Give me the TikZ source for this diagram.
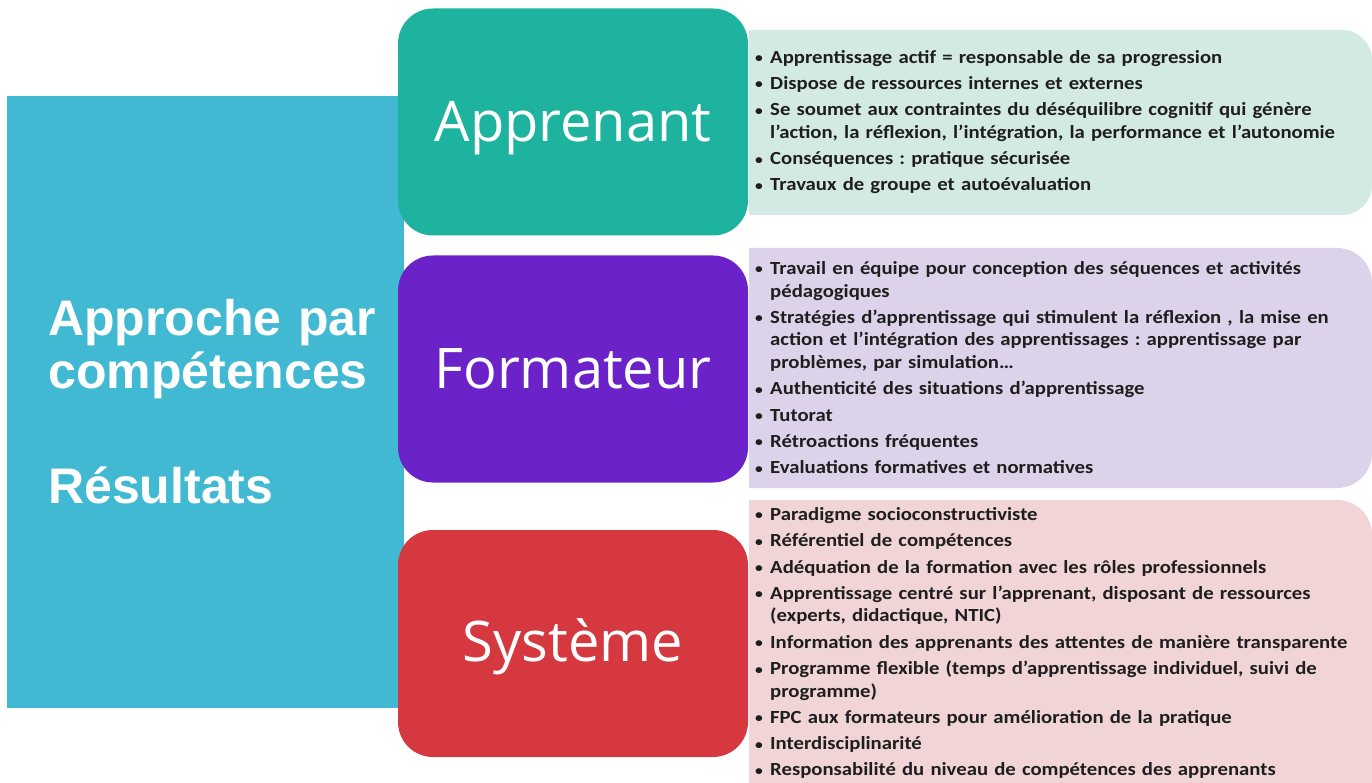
\documentclass[tikz,border=0pt]{standalone}
\usepackage{fontspec}
\setmainfont{Carlito}
\newfontfamily\itemfont[FakeStretch=1.12]{Carlito}
\newfontfamily\headfont{Open Sans}
\newfontfamily\leftfont{Liberation Sans}
\usetikzlibrary{positioning}
\definecolor{leftcyan}{HTML}{41B9D3}
\definecolor{appteal}{HTML}{1DB39F}
\definecolor{formpurple}{HTML}{6B22C8}
\definecolor{sysred}{HTML}{D5383E}
\definecolor{applight}{HTML}{D3E9E4}
\definecolor{formlight}{HTML}{DCD3EB}
\definecolor{syslight}{HTML}{F0D4D6}
\definecolor{itemtext}{HTML}{1E1E1E}
\newcommand{\itm}[1][3.7pt]{\par\vspace{#1}\noindent\hangindent=15pt\hangafter=1\makebox[15pt][l]{\raisebox{0.5pt}{\scalebox{0.75}{\textbullet}}}}
\tikzset{
  headbox/.style={rounded corners=35pt, minimum width=350pt, minimum height=227pt, inner sep=0pt},
  headlbl/.style={anchor=base, text=white, inner sep=0pt, font=\headfont\fontsize{56}{60}\selectfont},
  itemlist/.style={anchor=north west, inner sep=0pt, text width=640pt, align=left, text=itemtext, font=\itemfont\bfseries\fontsize{18.5}{22.6}\selectfont\frenchspacing},
}

\begin{document}
\begin{tikzpicture}[x=1pt, y=-1pt]
  \useasboundingbox (0,0) rectangle (1372,783);

  % left column
  \fill[leftcyan] (7,96) rectangle (404,708);
  \node[anchor=north west, inner sep=0pt, text width=350pt, align=left, text=white,
        font=\leftfont\bfseries\fontsize{50}{53}\selectfont] (topic) at (48,298)
        {\strut Approche par\\compétences\\[62pt]Résultats};

  % headings
  \node[headbox, fill=appteal] (app) at (573,122) {};
  \node[headbox, fill=formpurple] (form) at (573,369) {};
  \node[headbox, fill=sysred] (sys) at (573,643.5) {};
  \node[headlbl] (applbl) at ([yshift=-19.7pt]app.center) {Apprenant};
  \node[headlbl] (formlbl) at ([yshift=-19.7pt]form.center) {Formateur};
  \node[headlbl] (syslbl) at ([yshift=-18pt]sys.center) {Système};

  % item panels
  \begin{scope}
    \clip (749,0) rectangle (1372,783);
    \fill[applight, rounded corners=30pt] (700,30) rectangle (1372,215);
    \fill[formlight, rounded corners=35pt] (700,248) rectangle (1372,488);
    \fill[syslight, rounded corners=35pt] (700,500) rectangle (1372,830);
  \end{scope}

  \node[itemlist] (appitems) at (755,40.4) {%
    \itm[0pt]Apprentissage actif = responsable de sa progression
    \itm Dispose de ressources internes et externes
    \itm Se soumet aux contraintes du déséquilibre cognitif qui génère\newline l’action, la réflexion, l’intégration, la performance et l’autonomie
    \itm Conséquences : pratique sécurisée
    \itm Travaux de groupe et autoévaluation};
  \node[itemlist] (formitems) at (755,251.7) {%
    \itm[0pt]Travail en équipe pour conception des séquences et activités\newline pédagogiques
    \itm Stratégies d’apprentissage qui stimulent la réflexion , la mise en\newline action et l’intégration des apprentissages : apprentissage par\newline problèmes, par simulation…
    \itm Authenticité des situations d’apprentissage
    \itm Tutorat
    \itm Rétroactions fréquentes
    \itm Evaluations formatives et normatives};
  \node[itemlist] (sysitems) at (755,497.6) {%
    \itm[0pt]Paradigme socioconstructiviste
    \itm Référentiel de compétences
    \itm Adéquation de la formation avec les rôles professionnels
    \itm Apprentissage centré sur l’apprenant, disposant de ressources\newline (experts, didactique, NTIC)
    \itm Information des apprenants des attentes de manière transparente
    \itm Programme flexible (temps d’apprentissage individuel, suivi de\newline programme)
    \itm FPC aux formateurs pour amélioration de la pratique
    \itm Interdisciplinarité
    \itm[3.5pt]Responsabilité du niveau de compétences des apprenants};
\end{tikzpicture}
\end{document}
